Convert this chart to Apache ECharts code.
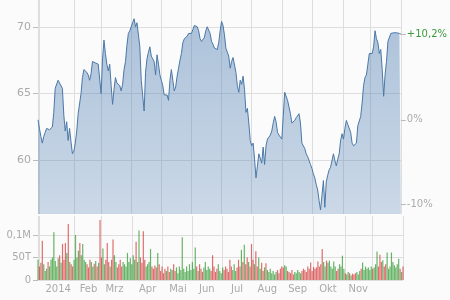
<!DOCTYPE html>
<html>
<head>
<meta charset="utf-8">
<script src="https://cdn.jsdelivr.net/npm/echarts@6/dist/echarts.min.js"></script>
<style>
html, body { margin: 0; padding: 0; background: #fbfbfb; }
#chart { width: 450px; height: 300px; }
</style>
</head>
<body>
<div id="chart"></div>
<script>
// month labels and where they sit (trading-day index)
var monthNames = ['2014', 'Feb', 'Mrz', 'Apr', 'Mai', 'Jun', 'Jul', 'Aug', 'Sep', 'Okt', 'Nov'];
var monthLabelIdx = [14, 35, 53, 76, 97, 117, 138, 159, 180, 201, 222];
var monthStartIdx = [0, 1, 25, 44, 65, 86, 107, 128, 149, 170, 191, 213, 232, 253];

var priceTicks = [60, 65, 70];
var volumeTicks = [0, 50, 100]; // in T (Tausend)

// daily close
var prices = [
    63.04, 62.4, 61.8, 61.3, 61.8, 62.1, 62.4, 62.3, 62.3, 62.4,
    62.5, 63.6, 65.4, 65.5, 66.0, 65.8, 65.9, 65.4, 63.4, 62.2,
    62.9, 61.5, 62.4, 61.4, 60.5, 60.7, 61.3, 62.2, 63.5, 63.4,
    65.0, 66.2, 66.8, 66.8, 66.6, 66.4, 66.0, 66.5, 67.4, 67.3,
    67.3, 67.2, 67.2, 67.1, 65.0, 67.6, 69.0, 68.0, 67.2, 66.7,
    67.2, 65.6, 64.2, 65.3, 66.2, 65.8, 65.7, 65.6, 65.2, 65.7,
    66.8, 67.4, 68.6, 69.5, 69.7, 69.8, 70.3, 70.6, 70.0, 70.3,
    70.4, 68.5, 66.0, 65.9, 63.7, 66.6, 67.6, 68.1, 68.5, 67.8,
    67.6, 67.4, 66.4, 67.9, 67.2, 66.4, 66.0, 65.6, 64.9, 65.0,
    64.9, 64.5, 66.0, 66.8, 66.0, 65.2, 65.5, 66.3, 66.9, 67.5,
    68.0, 68.8, 69.1, 69.2, 69.3, 69.5, 69.5, 69.5, 69.8, 70.1,
    70.0, 70.0, 69.7, 69.1, 68.9, 68.9, 69.2, 69.7, 70.0, 70.1,
    69.5, 68.9, 68.7, 68.4, 68.3, 68.3, 68.8, 69.7, 70.4, 70.1,
    69.4, 68.4, 68.1, 67.8, 66.9, 67.4, 67.7, 67.7, 66.6, 65.6,
    65.1, 66.0, 65.7, 66.3, 65.3, 63.6, 63.9, 62.8, 61.5, 61.1,
    61.3, 60.1, 58.7, 59.6, 60.5, 60.4, 59.8, 61.0, 59.7, 61.1,
    61.6, 61.6, 61.9, 62.2, 62.8, 63.3, 62.9, 62.1, 61.9, 61.8,
    61.6, 63.3, 65.1, 65.0, 64.5, 64.0, 63.5, 62.8, 62.9, 63.0,
    63.2, 63.3, 63.5, 62.8, 61.3, 61.2, 60.9, 60.5, 60.3, 60.0,
    59.7, 59.4, 59.0, 58.7, 58.2, 57.8, 57.0, 56.3, 56.4, 58.5,
    56.5, 58.4, 58.9, 59.3, 59.5, 59.6, 60.5, 60.0, 59.6, 60.1,
    60.5, 61.5, 62.0, 61.6, 62.4, 63.0, 62.7, 62.7, 62.1, 61.3,
    61.1, 61.1, 61.3, 62.6, 62.5, 63.3, 64.3, 65.6, 66.2, 66.4,
    67.2, 68.0, 67.9, 68.0, 68.5, 69.7, 69.1, 68.8, 68.0, 68.3,
    66.8, 64.8, 66.4, 67.4, 68.9, 69.0, 69.5, 69.5, 69.55, 69.55,
    69.55, 69.5, 69.5, 69.45
];

// daily volume in T
var volumes = [
    45, 30, 38, 87, 35, 20, 25, 40, 30, 45,
    50, 106, 42, 30, 48, 55, 38, 80, 45, 82,
    60, 124, 40, 35, 30, 45, 100, 50, 65, 82,
    55, 80, 45, 40, 35, 28, 45, 40, 30, 36,
    42, 30, 38, 133, 50, 70, 35, 45, 82, 40,
    30, 45, 90, 55, 40, 28, 35, 45, 30, 40,
    35, 30, 60, 40, 48, 35, 55, 45, 85, 40,
    110, 50, 38, 108, 45, 30, 35, 40, 69, 30,
    25, 32, 28, 60, 35, 20, 30, 15, 25, 20,
    30, 18, 25, 22, 35, 20, 28, 15, 30, 22,
    95, 25, 18, 30, 20, 35, 22, 40, 25, 72,
    30, 20, 35, 25, 18, 28, 40, 22, 30, 25,
    20, 55, 30, 18, 25, 35, 20, 15, 28, 22,
    30, 25, 18, 45, 30, 22, 35, 20, 28, 45,
    30, 67, 40, 78, 35, 50, 40, 30, 80, 45,
    35, 64, 30, 50, 25, 38, 20, 28, 37, 22,
    18, 25, 15, 20, 12, 18, 22, 15, 25, 30,
    28, 33, 30, 20, 18, 15, 22, 12, 18, 15,
    22, 18, 15, 20, 25, 22, 18, 30, 25, 39,
    20, 29, 25, 28, 41, 30, 35, 69, 40, 30,
    43, 38, 43, 30, 25, 41, 30, 20, 25, 35,
    30, 54, 25, 15, 12, 18, 15, 10, 14, 12,
    15, 18, 12, 20, 25, 39, 22, 30, 25, 28,
    22, 30, 25, 28, 35, 63, 30, 56, 40, 44,
    30, 35, 61, 25, 30, 61, 40, 33, 28, 35,
    47, 25, 18, 30
];

var lastIdx = prices.length - 1;
var priceData = prices.map(function (p, i) { return [i, p]; });
var volumeData = volumes.map(function (v, i) { return [i, v]; });
var basePrice = prices[0];
var lastPrice = prices[lastIdx];
var pctTicks = [basePrice * 0.9, basePrice, lastPrice];

var gray = '#aaa';
var gridColor = '#dedede';
var font = 'DejaVu Sans';

function pctText(v) {
    var p = Math.round((v / basePrice - 1) * 1000) / 10;
    var s = (Math.abs(p) < 0.05 ? '0' : String(p)).replace('.', ',');
    return (p > 0.05 ? '+' : '') + s + '%';
}

function timeAxis(gridIndex, withLabels) {
    return {
        type: 'value', gridIndex: gridIndex, min: 0, max: lastIdx,
        axisLine: { show: false },
        axisTick: { show: true, length: 0, customValues: monthStartIdx, lineStyle: { color: 'rgba(0,0,0,0)' } },
        axisLabel: {
            show: withLabels,
            customValues: monthLabelIdx,
            formatter: function (v) {
                var k = monthLabelIdx.indexOf(v);
                return k >= 0 ? monthNames[k] : '';
            },
            color: gray, fontFamily: font, fontSize: 10, margin: 4
        },
        splitLine: { show: true, lineStyle: { color: gridColor } }
    };
}

var myChart = echarts.init(document.getElementById('chart'));
var option = {
    animation: false,
    backgroundColor: '#fbfbfb',
    grid: [
        { left: 38, right: 47, top: 0, height: 214 },
        { left: 38, right: 47, top: 216, height: 64 }
    ],
    xAxis: [timeAxis(0, false), timeAxis(1, true)],
    yAxis: [
        {
            type: 'value', gridIndex: 0, min: 56, max: 72,
            axisLine: { show: false },
            axisTick: { show: true, length: 5, customValues: priceTicks, lineStyle: { color: '#bbb' } },
            axisLabel: { customValues: priceTicks, color: gray, fontFamily: font, fontSize: 11, margin: 7 },
            splitLine: { show: true, lineStyle: { color: gridColor } }
        },
        {
            type: 'value', gridIndex: 0, min: 56, max: 72, position: 'right',
            axisLine: { show: false },
            axisTick: { show: true, length: 5, customValues: pctTicks, lineStyle: { color: '#bbb' } },
            axisLabel: {
                customValues: pctTicks, fontFamily: font, fontSize: 10, margin: 6,
                formatter: pctText,
                color: function (v) { return v > basePrice * 1.001 ? '#3a9a3a' : gray; }
            },
            splitLine: { show: false }
        },
        {
            type: 'value', gridIndex: 1, min: 0, max: 142,
            axisLine: { show: false },
            axisTick: { show: true, length: 5, customValues: volumeTicks, lineStyle: { color: '#bbb' } },
            axisLabel: {
                customValues: volumeTicks, color: gray, fontFamily: font, fontSize: 10, margin: 7,
                formatter: function (v) { return v === 0 ? '0' : (v >= 100 ? String(v / 1000).replace('.', ',') + 'M' : v + 'T'); }
            },
            splitLine: { show: true, lineStyle: { color: gridColor } }
        }
    ],
    series: [
        {
            type: 'line', xAxisIndex: 0, yAxisIndex: 0, data: priceData,
            symbol: 'none', smooth: false,
            lineStyle: { color: '#4a78a8', width: 1 },
            areaStyle: {
                origin: 'start',
                color: new echarts.graphic.LinearGradient(0, 0, 0, 1, [
                    { offset: 0, color: 'rgba(70,120,175,0.62)' },
                    { offset: 1, color: 'rgba(70,120,175,0.38)' }
                ])
            }
        },
        {
            type: 'bar', xAxisIndex: 1, yAxisIndex: 2, data: volumeData,
            barWidth: 1.2,
            itemStyle: {
                color: function (p) {
                    var i = p.dataIndex;
                    var up = i === 0 || prices[i] >= prices[i - 1];
                    return up ? 'rgba(40,150,40,0.7)' : 'rgba(210,50,50,0.7)';
                }
            }
        }
    ]
};
myChart.setOption(option);
</script>
</body>
</html>
